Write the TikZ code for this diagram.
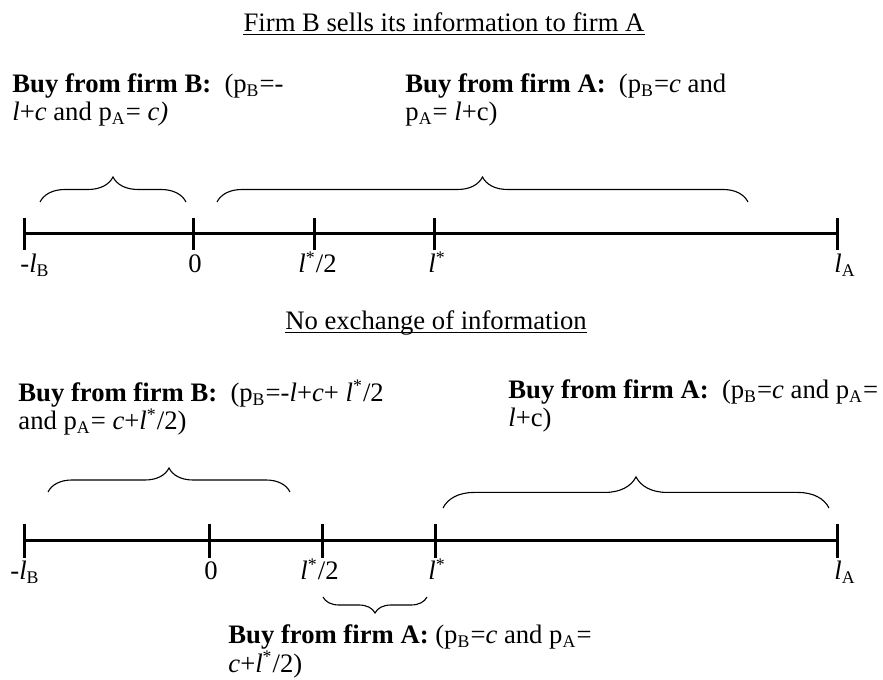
\documentclass[tikz,border=0pt]{standalone}
\usepackage{fontspec}
\setmainfont{Liberation Serif}
\usetikzlibrary{decorations.pathreplacing}

\begin{document}
\begin{tikzpicture}[x=0.45pt, y=-0.45pt,
heading/.style={inner sep=0pt, anchor=base, font=\fontsize{12}{13}\selectfont},
pricetext/.style={inner sep=0pt, anchor=base west, align=left,
font=\fontsize{12}{13}\selectfont},
ticktext/.style={inner sep=0pt, anchor=base west, font=\fontsize{12}{13}\selectfont},
axis/.style={line width=1.35pt},
tickmark/.style={line width=1.35pt},
range/.style={decorate, decoration={brace, amplitude=#1}, line width=0.5pt},
underbar/.style={line width=0.55pt}]

\useasboundingbox (0,0) rectangle (883,680);

% first case: firm B sells its information
\node[heading] (head1) at (444,32) {Firm B sells its information to firm A};
\draw[underbar] ([yshift=-1.3pt]head1.base west) -- ([yshift=-1.3pt]head1.base east);

% multi-line texts: placed at the baseline of their last line
\node[pricetext] (buyB1) at (12,121)
    {\textbf{Buy from firm B:}\ \ (p\textsubscript{B}=-\\
    \textit{l}+\textit{c} and p\textsubscript{A}= \textit{c)}};
\node[pricetext] (buyA1) at (405,121)
    {\textbf{Buy from firm A:}\ \ (p\textsubscript{B}=\textit{c} and\\
    p\textsubscript{A}= \textit{l}+c)};

\coordinate (lb1)   at (24,234);
\coordinate (zero1) at (193,234);
\coordinate (half1) at (314,234);
\coordinate (star1) at (434,234);
\coordinate (la1)   at (837,234);

\draw[axis] (lb1) -- (la1);
\draw[tickmark] (lb1)   ++(0,-16) -- ++(0,32);
\draw[tickmark] (zero1) ++(0,-16) -- ++(0,32);
\draw[tickmark] (half1) ++(0,-16) -- ++(0,32);
\draw[tickmark] (star1) ++(0,-16) -- ++(0,32);
\draw[tickmark] (la1)   ++(0,-16) -- ++(0,32);

\node[ticktext] (tlb1)   at (20,273)  {-\textit{l}\textsubscript{B}};
\node[ticktext] (tzero1) at (188,273) {0};
\node[ticktext] (thalf1) at (298,273) {\textit{l}\textsuperscript{*}/2};
\node[ticktext] (tstar1) at (428,273) {\textit{l}\textsuperscript{*}};
\node[ticktext] (tla1)   at (834,273) {\textit{l}\textsubscript{A}};

\coordinate (bBs1) at (40,202);
\coordinate (bBe1) at (186,202);
\coordinate (bAs1) at (217,202);
\coordinate (bAe1) at (748,202);
\draw[range=11.25pt] (bBs1) -- (bBe1);
\draw[range=11.25pt] (bAs1) -- (bAe1);

% second case: no exchange of information
\node[heading] (head2) at (436,330) {No exchange of information};
\draw[underbar] ([yshift=-1.2pt]head2.base west) -- ([yshift=-1.2pt]head2.base east);

\node[pricetext] (buyB2) at (18,430)
    {\textbf{Buy from firm B:}\ \ (p\textsubscript{B}=-\textit{l}+\textit{c}+
    \textit{l}\textsuperscript{*}/2\\
    and p\textsubscript{A}= \textit{c}+\textit{l}\textsuperscript{*}/2)};
\node[pricetext] (buyA2) at (508,427)
    {\textbf{Buy from firm A:}\ \ (p\textsubscript{B}=\textit{c} and p\textsubscript{A}=\\
    \textit{l}+c)};
\node[pricetext] (buyA3) at (228,672)
    {\textbf{Buy from firm A:} (p\textsubscript{B}=\textit{c} and p\textsubscript{A}=\\
    \textit{c}+\textit{l}\textsuperscript{*}/2)};

\coordinate (lb2)   at (24,541);
\coordinate (zero2) at (209,541);
\coordinate (half2) at (322,541);
\coordinate (star2) at (435,541);
\coordinate (la2)   at (837,541);

\draw[axis] (lb2) -- (la2);
\draw[tickmark] (lb2)   ++(0,-17) -- ++(0,34);
\draw[tickmark] (zero2) ++(0,-17) -- ++(0,34);
\draw[tickmark] (half2) ++(0,-17) -- ++(0,34);
\draw[tickmark] (star2) ++(0,-17) -- ++(0,34);
\draw[tickmark] (la2)   ++(0,-17) -- ++(0,34);

\node[ticktext] (tlb2)   at (10,580)  {-\textit{l}\textsubscript{B}};
\node[ticktext] (tzero2) at (204,580) {0};
\node[ticktext] (thalf2) at (300,580) {\textit{l}\textsuperscript{*}/2};
\node[ticktext] (tstar2) at (428,580) {\textit{l}\textsuperscript{*}};
\node[ticktext] (tla2)   at (834,580) {\textit{l}\textsubscript{A}};

\coordinate (bBs2) at (48,492);
\coordinate (bBe2) at (290,492);
\coordinate (bAs2) at (443,508);
\coordinate (bAe2) at (829,508);
\coordinate (bMs2) at (323,597);
\coordinate (bMe2) at (427,597);
\draw[range=10.8pt] (bBs2) -- (bBe2);
\draw[range=14pt]   (bAs2) -- (bAe2);
\draw[range=7.2pt]  (bMe2) -- (bMs2);
\end{tikzpicture}
\end{document}
